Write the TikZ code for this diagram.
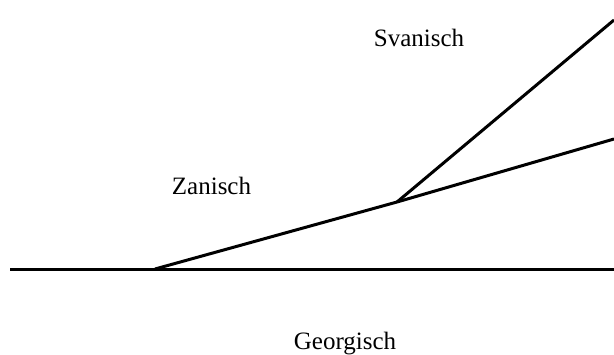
\documentclass[tikz,border=0pt]{standalone}
\usepackage{fontspec}
\setmainfont{Liberation Serif}
\begin{document}
\begin{tikzpicture}[x=1pt,y=-1pt,
  branch/.style={line width=3pt},
  lbl/.style={anchor=base,inner sep=0pt,font=\fontsize{25}{30}\selectfont}]
\useasboundingbox (0,0) rectangle (614,354);
\coordinate (L) at (10,269);
\coordinate (R) at (614,269);
\coordinate (A) at (155,269);
\coordinate (B) at (397,202);
\coordinate (S) at (614,20);
\coordinate (Z) at (614,139);
\draw[branch] (L) -- (R);
\draw[branch,line join=round] (A) -- (B) -- (Z);
\draw[branch] (B) -- (S);
\node[lbl] (sv) at (419,46) {Svanisch};
\node[lbl] (za) at (211.5,194) {Zanisch};
\node[lbl] (ge) at (345,349) {Georgisch};
\end{tikzpicture}
\end{document}
